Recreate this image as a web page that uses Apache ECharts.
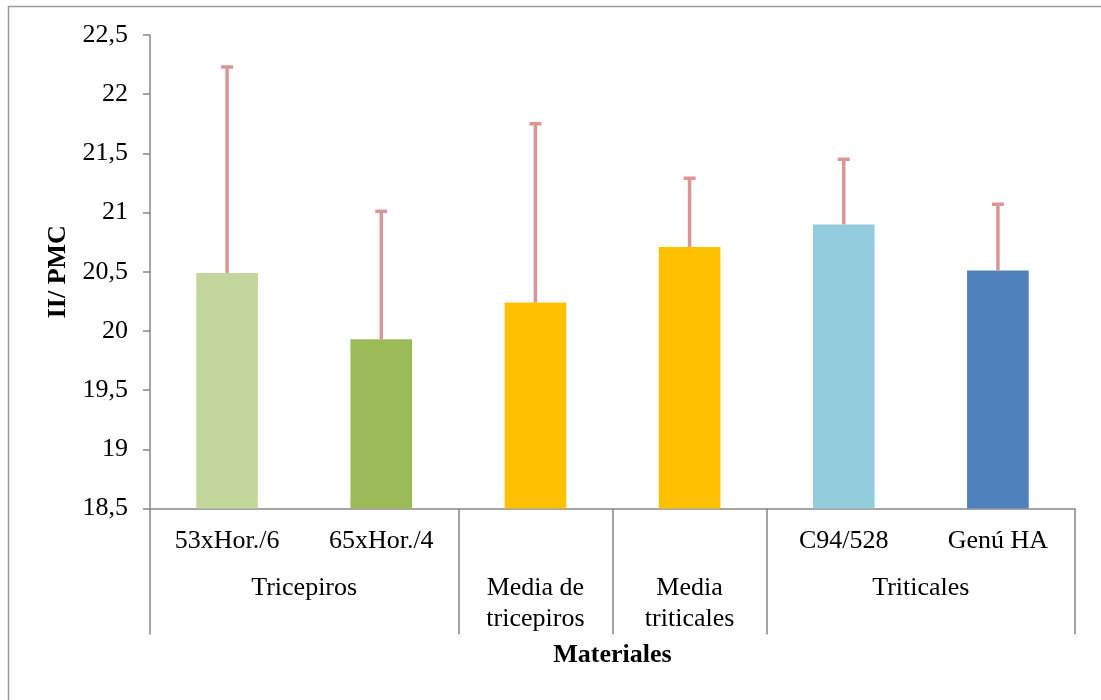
<!DOCTYPE html>
<html><head><meta charset="utf-8">
<script src="https://cdn.jsdelivr.net/npm/echarts@6/dist/echarts.min.js"></script>
<style>html,body{margin:0;padding:0;background:#fff}#c{width:1101px;height:700px}</style>
</head><body><div id="c"></div>
<script>
// ---- data ----
const categories = ['53xHor./6', '65xHor./4', 'Media de tricepiros', 'Media triticales', 'C94/528', 'Genú HA'];
const subLabels = ['53xHor./6', '65xHor./4', '', '', 'C94/528', 'Genú HA'];
const groupLabels = ['', '', 'Tricepiros', '', '', 'Media de\ntricepiros', '', 'Media\ntriticales', '', '', 'Triticales', '', ''];
const groupSeparators = [0, 4, 6, 8, 12];
const values = [20.49, 19.93, 20.24, 20.71, 20.90, 20.51];
const errorTops = [22.23, 21.01, 21.75, 21.29, 21.45, 21.07];
const barColors = ['#C3D69B', '#9BBB59', '#FFC000', '#FFC000', '#93CDDD', '#4F81BD'];
const yMin = 18.5, yMax = 22.5, yInterval = 0.5;
const yTitle = 'II/ PMC';
const xTitle = 'Materiales';

// ---- chart ----
const FONT = '"Liberation Serif", "Times New Roman", serif';
const AX = '#868686';
const LBL = 26;
const chart = echarts.init(document.getElementById('c'), null, {renderer: 'canvas'});
chart.setOption({
  backgroundColor: '#fff',
  animation: false,
  textStyle: {fontFamily: FONT, color: '#000'},
  graphic: [{
    type: 'rect', silent: true, z: 100,
    shape: {x: 8.5, y: 6.5, width: 1300, height: 900},
    style: {fill: 'none', stroke: '#9a9a9a', lineWidth: 1.5}
  }],
  grid: {left: 150, right: 26, top: 35, bottom: 191.5, containLabel: false},
  xAxis: [{
    type: 'category', data: subLabels, position: 'bottom',
    axisLine: {show: true, lineStyle: {color: AX, width: 1.5}},
    axisTick: {show: false},
    axisLabel: {interval: 0, margin: 20, fontFamily: FONT, fontSize: LBL, color: '#000'},
    name: xTitle, nameLocation: 'middle', nameGap: 134,
    nameTextStyle: {fontFamily: FONT, fontSize: 26, fontWeight: 'bold', color: '#000'}
  }, {
    type: 'category', data: groupLabels, position: 'bottom', boundaryGap: false, offset: 0,
    axisLine: {show: false},
    axisTick: {show: true, length: 126, interval: (i) => groupSeparators.includes(i), lineStyle: {color: AX, width: 1.5}},
    axisLabel: {interval: 0, margin: 64, verticalAlign: 'top', lineHeight: 31, fontFamily: FONT, fontSize: LBL, color: '#000', align: 'center'}
  }],
  yAxis: {
    type: 'value', min: yMin, max: yMax, interval: yInterval,
    axisLine: {show: true, lineStyle: {color: AX, width: 1.5}},
    axisTick: {show: true, length: 7, lineStyle: {color: AX, width: 1.5}},
    splitLine: {show: false},
    axisLabel: {margin: 22, fontFamily: FONT, fontSize: LBL, color: '#000',
      formatter: v => String(Math.round(v * 10) / 10).replace('.', ',')},
    name: yTitle, nameLocation: 'middle', nameGap: 79, nameRotate: 90,
    nameTextStyle: {fontFamily: FONT, fontSize: 26, fontWeight: 'bold', color: '#000'}
  },
  series: [{
    type: 'bar', xAxisIndex: 0, barWidth: '40%',
    data: values.map((v, i) => ({value: v, name: categories[i], itemStyle: {color: barColors[i]}}))
  }, {
    type: 'custom', xAxisIndex: 0, z: 3,
    data: values.map((v, i) => [i, v, errorTops[i]]),
    renderItem: (params, api) => {
      const x = api.value(0);
      const base = api.coord([x, api.value(1)]);
      const top = api.coord([x, api.value(2)]);
      const cap = 6;
      const st = {stroke: '#D99694', lineWidth: 3.5};
      return {type: 'group', children: [
        {type: 'line', shape: {x1: base[0], y1: base[1], x2: top[0], y2: top[1]}, style: st},
        {type: 'line', shape: {x1: top[0] - cap, y1: top[1], x2: top[0] + cap, y2: top[1]}, style: st}
      ]};
    }
  }]
});
</script></body></html>
